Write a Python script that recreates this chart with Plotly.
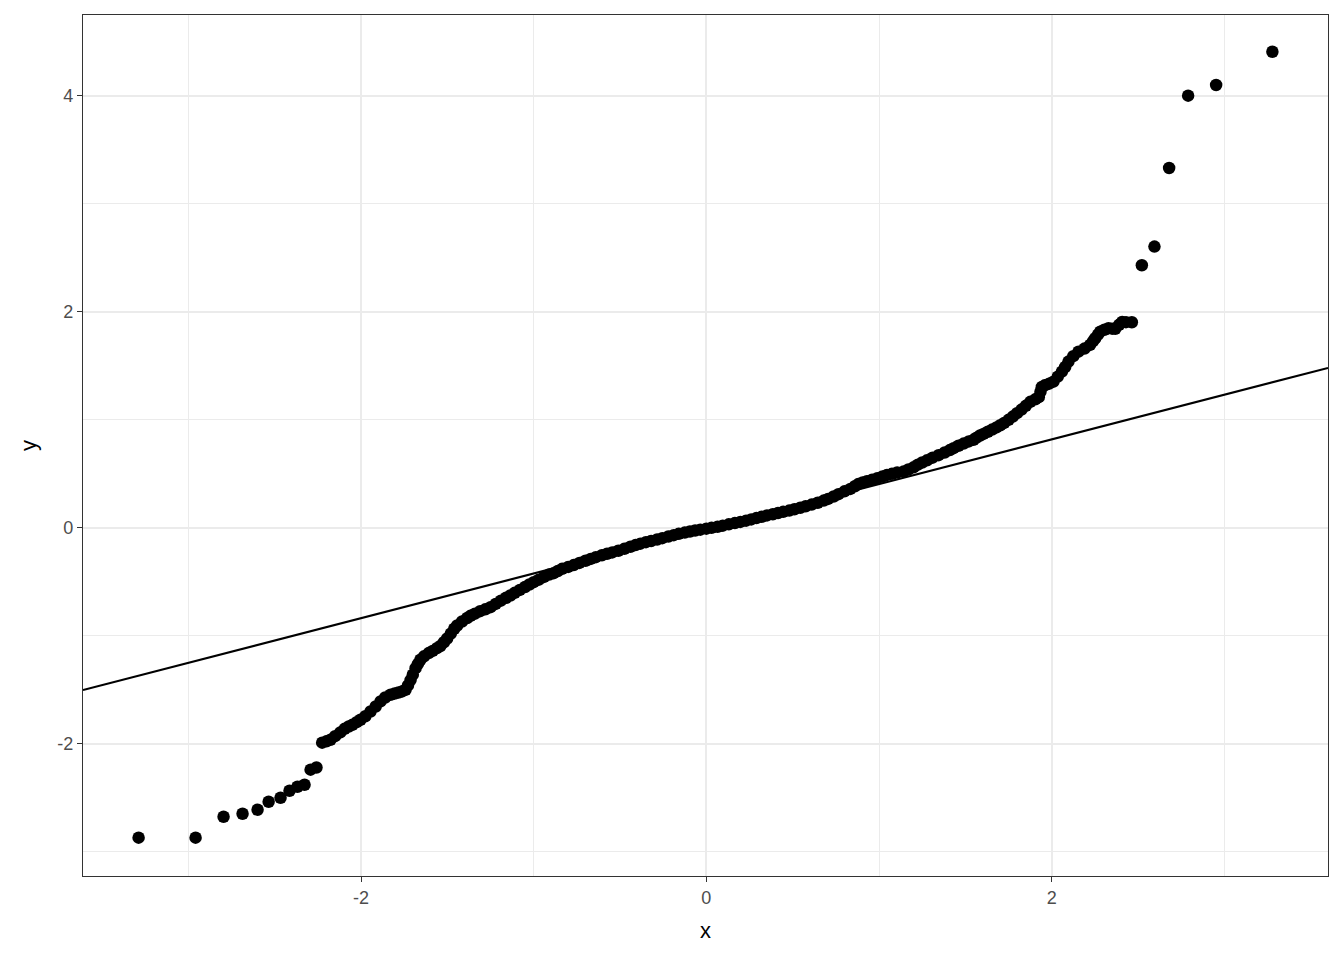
import plotly.graph_objects as go

# Theoretical quantiles (x) and sample quantiles (y)
theoretical = [
    -3.288, -2.958, -2.796, -2.686, -2.599, -2.535, -2.466, -2.414, -2.368, -2.327, -2.292, -2.258,
    -2.225, -2.20, -2.177, -2.15, -2.12, -2.095, -2.071, -2.05, -2.025, -2.003, -1.975, -1.945,
    -1.915, -1.887, -1.86, -1.829, -1.805, -1.783, -1.762, -1.742, -1.728, -1.713, -1.70, -1.684,
    -1.67, -1.656, -1.635, -1.608, -1.585, -1.56, -1.54, -1.52, -1.501, -1.48, -1.46, -1.443,
    -1.415, -1.385, -1.366, -1.34, -1.31, -1.28, -1.25, -1.22, -1.19, -1.16, -1.135, -1.11,
    -1.08, -1.05, -1.025, -1.0, -0.97, -0.94, -0.91, -0.884, -0.86,
    -0.835, -0.80, -0.768, -0.735, -0.70, -0.67, -0.64, -0.605, -0.575, -0.545, -0.51, -0.475,
    -0.44, -0.41, -0.382, -0.35, -0.32, -0.285, -0.255, -0.22, -0.189, -0.16, -0.125, -0.095,
    -0.065, -0.035, 0.0, 0.03, 0.065, 0.095, 0.13, 0.165, 0.197, 0.23, 0.26, 0.29, 0.32, 0.351,
    0.385, 0.415, 0.445, 0.48, 0.51, 0.544, 0.575, 0.61, 0.645, 0.68, 0.705, 0.737, 0.765, 0.80,
    0.834, 0.86, 0.88, 0.905, 0.93, 0.96, 0.99, 1.02, 1.046, 1.075, 1.105, 1.142, 1.17, 1.2,
    1.225, 1.25, 1.278, 1.31, 1.345, 1.38, 1.41, 1.432, 1.46, 1.49, 1.52, 1.547, 1.565, 1.585,
    1.605, 1.63, 1.655, 1.68, 1.702, 1.725, 1.75, 1.775, 1.799, 1.825, 1.85, 1.876, 1.905, 1.925,
    1.935, 1.943, 1.96, 1.985, 2.010, 2.035, 2.059, 2.078, 2.097, 2.125, 2.155, 2.19, 2.222, 2.24,
    2.252, 2.268, 2.281, 2.305, 2.329, 2.35, 2.368, 2.39, 2.408, 2.43, 2.464,
    2.522, 2.595, 2.680, 2.790, 2.952, 3.278,
]
sample = [
    -2.87, -2.87, -2.676, -2.648, -2.611, -2.537, -2.50, -2.435, -2.398, -2.38, -2.24, -2.22,
    -1.99, -1.978, -1.963, -1.93, -1.895, -1.862, -1.84, -1.825, -1.80, -1.778, -1.745, -1.701,
    -1.655, -1.608, -1.572, -1.546, -1.535, -1.525, -1.515, -1.50, -1.46, -1.41, -1.36, -1.30,
    -1.26, -1.222, -1.19, -1.16, -1.14, -1.115, -1.095, -1.06, -1.025, -0.98, -0.935, -0.905,
    -0.868, -0.835, -0.815, -0.795, -0.772, -0.755, -0.735, -0.705, -0.675, -0.648, -0.627, -0.602,
    -0.575, -0.548, -0.525, -0.503, -0.48, -0.455, -0.432, -0.42, -0.40,
    -0.38, -0.362, -0.345, -0.325, -0.305, -0.288, -0.272, -0.254, -0.24, -0.228, -0.212, -0.195,
    -0.175, -0.16, -0.147, -0.133, -0.122, -0.108, -0.096, -0.08, -0.068, -0.056, -0.044, -0.034,
    -0.025, -0.017, -0.008, 0.0, 0.01, 0.02, 0.032, 0.044, 0.055, 0.066, 0.078, 0.09, 0.102, 0.115,
    0.126, 0.137, 0.148, 0.16, 0.172, 0.186, 0.20, 0.215, 0.232, 0.252, 0.268, 0.29, 0.312, 0.338,
    0.36, 0.385, 0.405, 0.42, 0.432, 0.445, 0.46, 0.475, 0.49, 0.50, 0.512, 0.521, 0.54, 0.56,
    0.585, 0.605, 0.625, 0.65, 0.673, 0.698, 0.72, 0.738, 0.76, 0.78, 0.80, 0.815, 0.835, 0.855,
    0.87, 0.89, 0.91, 0.93, 0.95, 0.972, 1.0, 1.03, 1.062, 1.095, 1.13, 1.167, 1.19, 1.21,
    1.26, 1.305, 1.32, 1.335, 1.354, 1.40, 1.447, 1.49, 1.54, 1.59, 1.632, 1.66, 1.694, 1.73,
    1.756, 1.79, 1.817, 1.835, 1.849, 1.845, 1.843, 1.88, 1.907, 1.905, 1.904,
    2.432, 2.605, 3.333, 4.003, 4.102, 4.41,
]

# Reference line (qq line) parameters
line_slope = 0.414
line_intercept = -0.009

x_range = [-3.61, 3.60]
y_range = [-3.225, 4.75]

x_ticks = [-2, 0, 2]
y_ticks = [-2, 0, 2, 4]

line_x = x_range
line_y = [line_intercept + line_slope * v for v in line_x]

fig = go.Figure()
fig.add_trace(go.Scatter(
    x=theoretical, y=sample, mode="markers",
    marker=dict(color="black", size=12.5, line=dict(width=0)),
    showlegend=False, hoverinfo="x+y",
))
fig.add_trace(go.Scatter(
    x=line_x, y=line_y, mode="lines",
    line=dict(color="black", width=2),
    showlegend=False, hoverinfo="skip",
))

axis_common = dict(
    showgrid=True, gridcolor="#EBEBEB", gridwidth=1.6,
    zeroline=False,
    showline=True, mirror=True, linecolor="#333333", linewidth=1.2,
    ticks="outside", ticklen=5, tickwidth=1.2, tickcolor="#333333",
    tickfont=dict(family="Liberation Sans, Arial, sans-serif", size=18, color="#4D4D4D"),
    minor=dict(showgrid=True, gridcolor="#EBEBEB", gridwidth=0.8, dtick=1, ticks=""),
)

fig.update_xaxes(
    range=x_range, tickvals=x_ticks, ticktext=[str(v) for v in x_ticks],
    title=dict(text="x", font=dict(family="Liberation Sans, Arial, sans-serif", size=22, color="black"), standoff=15),
    **axis_common,
)
fig.update_yaxes(
    range=y_range, tickvals=y_ticks, ticktext=[str(v) for v in y_ticks],
    title=dict(text="y", font=dict(family="Liberation Sans, Arial, sans-serif", size=22, color="black"), standoff=14),
    **axis_common,
)

fig.update_layout(
    width=1344, height=960,
    margin=dict(l=75, r=24, t=7, b=92, autoexpand=False),
    paper_bgcolor="white", plot_bgcolor="white",
    showlegend=False,
)

fig.write_html("out.html")
